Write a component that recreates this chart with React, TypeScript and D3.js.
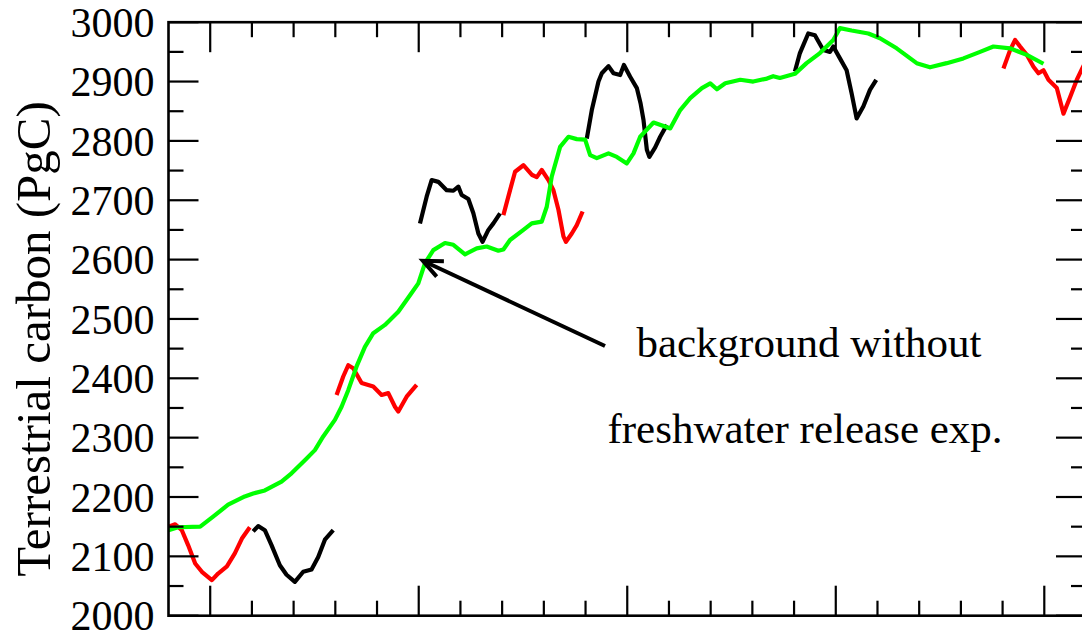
import React from "react";
import * as d3 from "d3";

// Time axis runs in model kyr units; carbon in PgC.
const yMajorTicks = [2000, 2100, 2200, 2300, 2400, 2500, 2600, 2700, 2800, 2900, 3000];
const yMinorTicks = [2050, 2150, 2250, 2350, 2450, 2550, 2650, 2750, 2850, 2950];
const xMajorTicks = [0, 5, 10, 15, 20];
const xMinorTicks = [1, 2, 3, 4, 6, 7, 8, 9, 11, 12, 13, 14, 16, 17, 18, 19];

// Background run (no freshwater release)
const background: [number, number][] = [
  [-1.0, 2144], [-0.77, 2149], [-0.24, 2150], [0.07, 2167], [0.43, 2187], [0.83, 2201],
  [1.03, 2206], [1.31, 2211], [1.71, 2226], [1.95, 2240], [2.27, 2262], [2.51, 2279],
  [2.71, 2302], [2.99, 2330], [3.15, 2352], [3.31, 2380], [3.51, 2420], [3.71, 2453],
  [3.91, 2476], [4.19, 2490], [4.51, 2512], [4.79, 2540], [4.99, 2560], [5.15, 2594],
  [5.35, 2616], [5.63, 2628], [5.83, 2625], [6.11, 2609], [6.39, 2619], [6.63, 2622],
  [6.91, 2615], [7.03, 2617], [7.19, 2633], [7.51, 2650], [7.71, 2661], [7.95, 2664],
  [8.07, 2689], [8.19, 2740], [8.39, 2790], [8.59, 2807], [8.79, 2803], [8.99, 2802],
  [9.11, 2776], [9.27, 2771], [9.55, 2779], [9.75, 2773], [9.99, 2762], [10.15, 2779],
  [10.31, 2807], [10.63, 2831], [10.87, 2825], [11.03, 2821], [11.27, 2852], [11.51, 2872],
  [11.79, 2889], [11.99, 2897], [12.15, 2887], [12.35, 2897], [12.71, 2903], [13.02, 2900],
  [13.35, 2905], [13.5, 2909], [13.66, 2906], [14.02, 2913], [14.3, 2931], [14.62, 2948],
  [14.94, 2970], [15.1, 2990], [15.38, 2986], [15.78, 2981], [16.06, 2973], [16.46, 2956],
  [16.94, 2931], [17.26, 2924], [17.66, 2931], [18.06, 2939], [18.46, 2950], [18.78, 2959],
  [19.18, 2956], [19.58, 2945], [19.98, 2930],
];

// Freshwater release experiments, red runs
const red1: [number, number][] = [
  [-1.0, 2150], [-0.84, 2154], [-0.68, 2144], [-0.53, 2119], [-0.36, 2088], [-0.2, 2074],
  [0.04, 2060], [0.19, 2071], [0.4, 2083], [0.59, 2105], [0.76, 2130], [0.95, 2149],
];
const red2: [number, number][] = [
  [3.03, 2372], [3.19, 2403], [3.31, 2422], [3.43, 2417], [3.63, 2392], [3.91, 2386],
  [4.11, 2372], [4.27, 2375], [4.43, 2352], [4.51, 2344], [4.71, 2369], [4.95, 2389],
];
const red3: [number, number][] = [
  [7.03, 2675], [7.19, 2717], [7.31, 2748], [7.51, 2759], [7.71, 2743], [7.83, 2739],
  [7.95, 2751], [8.11, 2734], [8.23, 2717], [8.35, 2684], [8.47, 2639], [8.53, 2630],
  [8.67, 2644], [8.79, 2658], [8.93, 2681],
];
const red4: [number, number][] = [
  [19.02, 2922], [19.18, 2953], [19.3, 2970], [19.42, 2959], [19.58, 2945], [19.74, 2925],
  [19.86, 2914], [19.98, 2919], [20.1, 2903], [20.3, 2889], [20.46, 2846], [20.62, 2874],
  [20.78, 2903], [20.91, 2922], [21.0, 2935],
];

// Freshwater release experiments, black runs
const black1: [number, number][] = [
  [1.03, 2142], [1.15, 2151], [1.31, 2144], [1.47, 2119], [1.67, 2085], [1.83, 2069],
  [2.03, 2057], [2.23, 2074], [2.43, 2078], [2.59, 2099], [2.75, 2128], [2.95, 2144],
];
const black2: [number, number][] = [
  [5.03, 2661], [5.19, 2706], [5.31, 2734], [5.47, 2731], [5.67, 2717], [5.83, 2716],
  [5.95, 2723], [6.03, 2709], [6.19, 2702], [6.31, 2678], [6.43, 2644], [6.53, 2630],
  [6.67, 2650], [6.79, 2661], [6.95, 2678],
];
const black3: [number, number][] = [
  [9.03, 2804], [9.15, 2852], [9.31, 2900], [9.39, 2914], [9.55, 2926], [9.67, 2914],
  [9.83, 2911], [9.92, 2928], [10.07, 2908], [10.23, 2889], [10.32, 2863], [10.39, 2835],
  [10.47, 2785], [10.53, 2773], [10.67, 2789], [10.79, 2807], [10.95, 2827],
];
const black4: [number, number][] = [
  [14.02, 2917], [14.14, 2948], [14.34, 2981], [14.5, 2978], [14.7, 2953], [14.86, 2950],
  [14.94, 2959], [15.1, 2939], [15.26, 2919], [15.38, 2880], [15.5, 2838], [15.66, 2858],
  [15.82, 2886], [15.97, 2903],
];

const yTitle = "Terrestrial carbon (PgC)";
const noteLines = ["background without", "freshwater release exp."];

const W = 1082;
const H = 635;
const FONT = "'Liberation Serif', 'Times New Roman', Times, serif";

export default function App() {
  const left = 168.5;
  const right = 1086;
  const top = 22.2;
  const bottom = 615.7;

  const x = d3.scaleLinear().domain([-1, 21]).range([left, right]);
  const y = d3.scaleLinear().domain([2000, 3000]).range([bottom, top]);
  const line = d3
    .line<[number, number]>()
    .x((d) => x(d[0]))
    .y((d) => y(d[1]));

  const majorLen = 30;
  const minorLen = 15;

  // arrow pointing at the background curve
  const tip: [number, number] = [x(5.1), y(2598)];
  const tail: [number, number] = [605, 346];
  const ang = Math.atan2(tail[1] - tip[1], tail[0] - tip[0]);
  const headLen = 21;
  const spread = (24 * Math.PI) / 180;
  const arm1: [number, number] = [tip[0] + headLen * Math.cos(ang - spread), tip[1] + headLen * Math.sin(ang - spread)];
  const arm2: [number, number] = [tip[0] + headLen * Math.cos(ang + spread), tip[1] + headLen * Math.sin(ang + spread)];

  const series: { data: [number, number][]; color: string }[] = [
    { data: red1, color: "#ff0000" },
    { data: red2, color: "#ff0000" },
    { data: red3, color: "#ff0000" },
    { data: red4, color: "#ff0000" },
    { data: black1, color: "#000000" },
    { data: black2, color: "#000000" },
    { data: black3, color: "#000000" },
    { data: black4, color: "#000000" },
  ];

  return (
    <svg
      width={W}
      height={H}
      style={{ position: "absolute", left: 0, top: 0, background: "#fff" }}
      fontFamily={FONT}
    >
      <rect x={0} y={0} width={W} height={H} fill="#fff" />
      {/* data */}
      {series.map((s, i) => (
        <path key={i} d={line(s.data) || ""} fill="none" stroke={s.color} strokeWidth={4.2} strokeLinejoin="round" />
      ))}
      <path d={line(background) || ""} fill="none" stroke="#00ff00" strokeWidth={4.2} strokeLinejoin="round" />

      {/* frame */}
      <rect x={left} y={top} width={right - left} height={bottom - top} fill="none" stroke="#000" strokeWidth={2.6} />

      {/* y ticks, left and right */}
      {yMajorTicks.map((v) => (
        <g key={"ym" + v}>
          <line x1={left} x2={left + majorLen} y1={y(v)} y2={y(v)} stroke="#000" strokeWidth={2.2} />
          <line x1={right} x2={right - majorLen} y1={y(v)} y2={y(v)} stroke="#000" strokeWidth={2.2} />
          <text x={left - 14} y={y(v)} dy="0.35em" textAnchor="end" fontSize={42} fill="#000">
            {v}
          </text>
        </g>
      ))}
      {yMinorTicks.map((v) => (
        <g key={"yn" + v}>
          <line x1={left} x2={left + minorLen} y1={y(v)} y2={y(v)} stroke="#000" strokeWidth={2.2} />
          <line x1={right} x2={right - minorLen} y1={y(v)} y2={y(v)} stroke="#000" strokeWidth={2.2} />
        </g>
      ))}

      {/* x ticks, bottom and top */}
      {xMajorTicks.map((t) => (
        <g key={"xm" + t}>
          <line x1={x(t)} x2={x(t)} y1={bottom} y2={bottom - majorLen} stroke="#000" strokeWidth={2.2} />
          <line x1={x(t)} x2={x(t)} y1={top} y2={top + majorLen} stroke="#000" strokeWidth={2.2} />
        </g>
      ))}
      {xMinorTicks.map((t) => (
        <g key={"xn" + t}>
          <line x1={x(t)} x2={x(t)} y1={bottom} y2={bottom - minorLen} stroke="#000" strokeWidth={2.2} />
          <line x1={x(t)} x2={x(t)} y1={top} y2={top + minorLen} stroke="#000" strokeWidth={2.2} />
        </g>
      ))}

      {/* axis title */}
      <text
        transform={`translate(50, ${(top + bottom) / 2 + 20}) rotate(-90)`}
        textAnchor="middle"
        fontSize={49}
        fill="#000"
      >
        {yTitle}
      </text>

      {/* annotation */}
      <line x1={tail[0]} y1={tail[1]} x2={tip[0]} y2={tip[1]} stroke="#000" strokeWidth={4} />
      <polyline
        points={`${arm1[0]},${arm1[1]} ${tip[0]},${tip[1]} ${arm2[0]},${arm2[1]}`}
        fill="none"
        stroke="#000"
        strokeWidth={4}
      />
      <text x={809} y={357} textAnchor="middle" fontSize={43} fill="#000">
        {noteLines[0]}
      </text>
      <text x={805} y={443} textAnchor="middle" fontSize={43} fill="#000">
        {noteLines[1]}
      </text>
    </svg>
  );
}
